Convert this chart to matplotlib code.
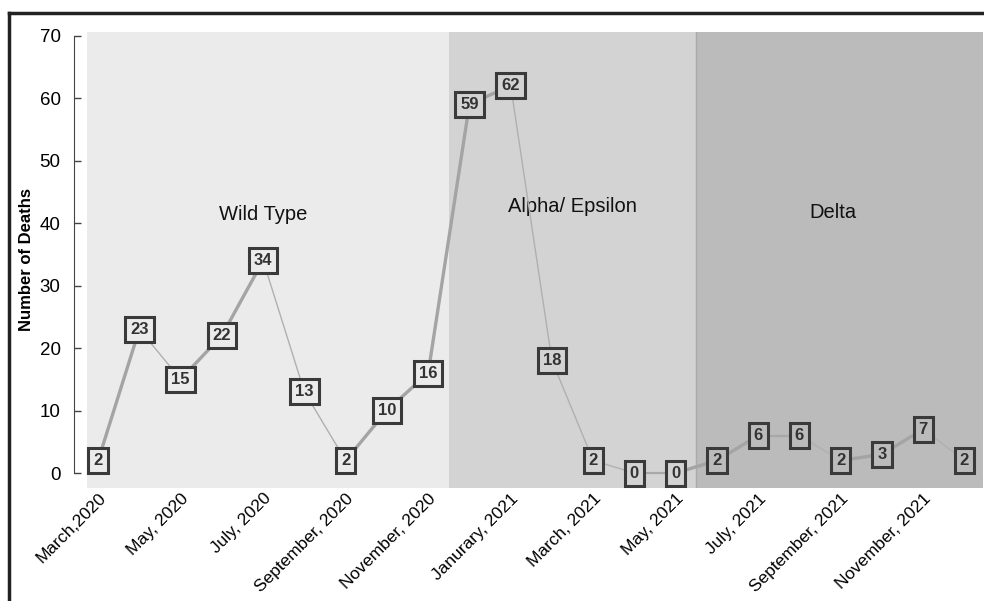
import matplotlib.pyplot as plt
import numpy as np
from matplotlib.lines import Line2D

plt.rcParams['font.family'] = ['Liberation Sans', 'DejaVu Sans']

# monthly deaths, March 2020 .. December 2021
deaths = [2, 23, 15, 22, 34, 13, 2, 10, 16, 59, 62, 18, 2, 0, 0, 2, 6, 6, 2, 3, 7, 2]
tick_labels = ['March,2020', 'May, 2020', 'July, 2020', 'September, 2020',
               'November, 2020', 'Janurary, 2021', 'March, 2021', 'May, 2021',
               'July, 2021', 'September, 2021', 'November, 2021']
variants = ['Wild Type', 'Alpha/ Epsilon', 'Delta']
variant_start = [-0.27, 8.5, 14.5]
variant_end = [8.5, 14.5, 21.45]
variant_label_x = [4.0, 11.5, 17.8]
variant_label_y = [41.3, 42.6, 41.7]
variant_colors = ['#ebebeb', '#d3d3d3', '#bbbbbb']

x = np.arange(len(deaths))

fig = plt.figure(figsize=(9.84, 6.01), dpi=100)
ax = fig.add_axes([0.0884, 0.188, 0.9106, 0.759])

# variant periods
for name, s, e, lx, ly, c in zip(variants, variant_start, variant_end,
                                 variant_label_x, variant_label_y, variant_colors):
    ax.axvspan(s, e, color=c, lw=0, zorder=0)
    ax.text(lx, ly, name, ha='center', va='center', fontsize=14.5, color='#111111', zorder=1)
ax.axvline(variant_start[2], color='#aaaaaa', lw=1, zorder=0.5)

# line segments: rising thick, falling thin
for i in range(len(deaths) - 1):
    d = deaths[i + 1] - deaths[i]
    if d > 0:
        lw, col = 2.4, '#a4a4a4'
    elif d < 0:
        lw, col = 1.0, '#b0b0b0'
    else:
        lw, col = 1.6, '#a8a8a8'
    ax.plot(x[i:i + 2], deaths[i:i + 2], color=col, lw=lw, zorder=2,
            solid_capstyle='butt')

# value boxes
for xi, v in zip(x, deaths):
    k = 0 if xi < variant_start[1] else (1 if xi < variant_start[2] else 2)
    ax.text(xi, v, str(v), ha='center', va='center', fontsize=12,
            fontweight='bold', color='#333333', zorder=3,
            bbox=dict(boxstyle='square,pad=0.3', fc=variant_colors[k],
                      ec='#3a3a3a', lw=2.2))

ax.set_xlim(-0.27, 21.45)
ax.set_ylim(-2.4, 70.6)
ax.set_yticks(np.arange(0, 71, 10))
ax.set_xticks(x[::2])
ax.set_xticklabels(tick_labels, rotation=45, ha='right', va='top',
                   rotation_mode='anchor', fontsize=12.5)
ax.tick_params(axis='x', length=0, pad=2)
ax.tick_params(axis='y', direction='in', length=5, width=1, labelsize=13.5,
               color='#444444', pad=10)
for sp in ['top', 'right', 'bottom']:
    ax.spines[sp].set_visible(False)
ax.spines['left'].set_position(('outward', 9))
ax.spines['left'].set_bounds(0, 70)
ax.spines['left'].set_color('#444444')
ax.set_ylabel('Number of Deaths', fontsize=12, fontweight='bold', labelpad=4)

# outer frame (top and left)
fig.add_artist(Line2D([0.0095, 1.0], [0.978, 0.978], color='#222222', lw=2.5,
                      transform=fig.transFigure))
fig.add_artist(Line2D([0.0095, 0.0095], [0.0, 0.978], color='#222222', lw=2.5,
                      transform=fig.transFigure))

fig.savefig('out.png', dpi=100)
